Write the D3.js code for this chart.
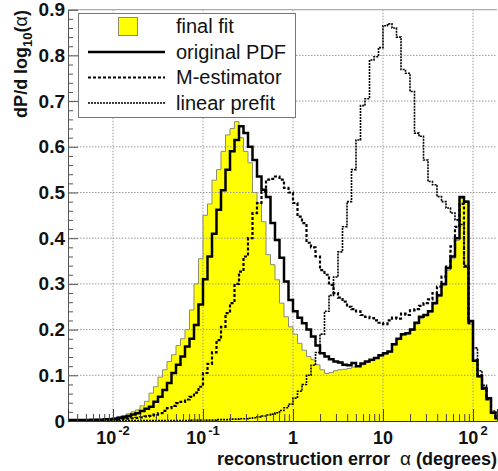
<!DOCTYPE html>
<html>
<head>
<meta charset="utf-8">
<script src="https://cdn.jsdelivr.net/npm/d3@7"></script>
<style>
  body { margin: 0; background: #fff; }
  svg { display: block; }
</style>
</head>
<body>
<div id="chart"></div>
<script>
// histogram bins in log10(alpha/deg), 0.05 wide, first edge at 10^-2.5
const binStart = -2.5, binWidth = 0.05;

const finalFit = [
  0.002,0.002,0.002,0.003,0.003,0.003,0.004,0.004,0.005,0.006,
  0.007,0.009,0.012,0.016,0.020,0.024,0.033,0.043,0.061,0.075,
  0.096,0.112,0.130,0.145,0.165,0.180,0.200,0.243,0.300,0.355,
  0.450,0.475,0.527,0.550,0.590,0.626,0.640,0.655,0.620,0.590,
  0.565,0.500,0.477,0.436,0.364,0.342,0.309,0.258,0.228,0.206,
  0.190,0.170,0.155,0.141,0.134,0.123,0.112,0.104,0.106,0.110,
  0.112,0.113,0.115,0.118,0.121,0.123,0.128,0.132,0.138,0.142,
  0.146,0.150,0.166,0.178,0.188,0.190,0.198,0.212,0.224,0.230,
  0.238,0.255,0.272,0.296,0.330,0.355,0.395,0.487,0.482,0.212,
  0.130,0.096,0.070,0.048,0.016,0.005
];

const originalPdf = [
  0.002,0.002,0.002,0.002,0.002,0.003,0.003,0.003,0.004,0.004,
  0.005,0.007,0.009,0.011,0.014,0.017,0.022,0.027,0.031,0.042,
  0.053,0.068,0.083,0.105,0.123,0.141,0.163,0.180,0.210,0.255,
  0.310,0.360,0.410,0.462,0.505,0.550,0.590,0.615,0.645,0.630,
  0.600,0.571,0.535,0.506,0.490,0.433,0.396,0.357,0.305,0.265,
  0.240,0.226,0.214,0.200,0.185,0.165,0.148,0.141,0.135,0.130,
  0.128,0.123,0.122,0.127,0.120,0.126,0.130,0.134,0.138,0.144,
  0.148,0.152,0.168,0.180,0.190,0.192,0.200,0.215,0.228,0.232,
  0.240,0.258,0.275,0.300,0.335,0.360,0.400,0.490,0.480,0.218,
  0.132,0.098,0.072,0.050,0.018,0.006
];

const mEstimator = [
  0.001,0.001,0.001,0.001,0.001,0.001,0.001,0.001,0.001,0.001,
  0.002,0.003,0.004,0.005,0.006,0.007,0.008,0.010,0.011,0.014,
  0.017,0.022,0.028,0.033,0.039,0.042,0.047,0.053,0.062,0.075,
  0.105,0.125,0.150,0.177,0.206,0.236,0.258,0.300,0.327,0.360,
  0.400,0.455,0.477,0.502,0.528,0.530,0.535,0.528,0.510,0.500,
  0.477,0.447,0.433,0.390,0.380,0.360,0.330,0.320,0.298,0.280,
  0.270,0.261,0.250,0.245,0.240,0.232,0.228,0.225,0.220,0.215,
  0.212,0.220,0.226,0.224,0.235,0.232,0.242,0.245,0.252,0.258,
  0.266,0.280,0.294,0.316,0.338,0.382,0.425,0.475,0.338,0.214,
  0.134,0.100,0.070,0.047,0.018,0.006
];

const linearPrefit = [
  0.001,0.001,0.001,0.001,0.001,0.001,0.001,0.001,0.001,0.001,
  0.001,0.001,0.001,0.001,0.001,0.001,0.001,0.001,0.001,0.001,
  0.001,0.001,0.001,0.001,0.001,0.001,0.001,0.002,0.002,0.002,
  0.002,0.002,0.002,0.003,0.003,0.003,0.004,0.004,0.005,0.005,
  0.006,0.007,0.009,0.011,0.013,0.015,0.018,0.023,0.029,0.037,
  0.050,0.065,0.080,0.100,0.122,0.150,0.190,0.240,0.275,0.315,
  0.370,0.425,0.480,0.550,0.615,0.690,0.705,0.790,0.797,0.817,
  0.865,0.869,0.860,0.840,0.769,0.761,0.721,0.630,0.623,0.571,
  0.524,0.517,0.491,0.480,0.466,0.455,0.440,0.430,0.340,0.220,
  0.160,0.110,0.078,0.050,0.022,0.007
];

const yTicks = [0, 0.1, 0.2, 0.3, 0.4, 0.5, 0.6, 0.7, 0.8, 0.9];
const yTickLabels = ["0", "0.1", "0.2", "0.3", "0.4", "0.5", "0.6", "0.7", "0.8", "0.9"];
const xTicks = [0.01, 0.1, 1, 10, 100];
const xTickLabels = [["10", "-2"], ["10", "-1"], ["1", ""], ["10", ""], ["10", "2"]];
const legendLabels = ["final fit", "original PDF", "M-estimator", "linear prefit"];

const width = 498, height = 471;
const plotLeft = 68, plotRight = 497, plotTop = 9.7, plotBottom = 421;
const font = "'Liberation Sans', Arial, Helvetica, sans-serif";

const svg = d3.select("#chart")
    .append("svg")
    .attr("width", width)
    .attr("height", height)
    .style("font-family", font);

svg.append("rect").attr("width", width).attr("height", height).attr("fill", "white");

const x = d3.scaleLog()
    .domain([Math.pow(10, -2.5), Math.pow(10, 2.2667)])
    .range([plotLeft, plotRight]);

const y = d3.scaleLinear()
    .domain([0, 0.9])
    .range([plotBottom, plotTop]);

const edges = d3.range(finalFit.length + 1).map(i => Math.pow(10, binStart + i * binWidth));
const steps = vals => vals.map((v, i) => [edges[i], v]).concat([[edges[vals.length], vals[vals.length - 1]]]);

svg.append("defs").append("clipPath").attr("id", "plot")
    .append("rect")
    .attr("x", plotLeft).attr("y", plotTop)
    .attr("width", plotRight - plotLeft).attr("height", plotBottom - plotTop);

const plot = svg.append("g").attr("clip-path", "url(#plot)");

// yellow filled histogram
const area = d3.area()
    .x(d => x(d[0]))
    .y0(y(0))
    .y1(d => y(d[1]))
    .curve(d3.curveStepAfter);

const line = d3.line()
    .x(d => x(d[0]))
    .y(d => y(d[1]))
    .curve(d3.curveStepAfter);

plot.append("path")
    .attr("d", area(steps(finalFit)))
    .attr("fill", "#ffff00");

plot.append("path")
    .attr("d", line(steps(finalFit)))
    .attr("fill", "none")
    .attr("stroke", "#8c8c70")
    .attr("stroke-width", 1);

// grid on top of the fill
plot.selectAll("line.hgrid")
    .data(yTicks.slice(1, -1))
    .enter().append("line")
    .attr("x1", plotLeft).attr("x2", plotRight)
    .attr("y1", d => y(d)).attr("y2", d => y(d))
    .attr("stroke", "#9a9a9a")
    .attr("stroke-dasharray", "1.5,1.5");

plot.selectAll("line.vgrid")
    .data(xTicks)
    .enter().append("line")
    .attr("x1", d => x(d)).attr("x2", d => x(d))
    .attr("y1", plotTop).attr("y2", plotBottom)
    .attr("stroke", "#9a9a9a")
    .attr("stroke-dasharray", "1.5,1.5");

const styles = [
    { vals: linearPrefit, w: 1.6, dash: "2,1", color: "#000" },
    { vals: mEstimator, w: 2.2, dash: "3,2", color: "#000" },
    { vals: originalPdf, w: 2.5, dash: null, color: "#000" }
];

styles.forEach(s => {
    plot.append("path")
        .attr("d", line(steps(s.vals)))
        .attr("fill", "none")
        .attr("stroke", s.color)
        .attr("stroke-width", s.w)
        .attr("stroke-dasharray", s.dash);
});

// axes
const minorY = d3.range(0, 0.9001, 0.02).filter(v => Math.abs(v * 10 - Math.round(v * 10)) > 1e-6);
const yAxis = d3.axisLeft(y).tickValues(yTicks).tickSize(-10).tickPadding(3)
    .tickFormat((d, i) => yTickLabels[i]);
const gy = svg.append("g").attr("transform", `translate(${plotLeft},0)`).call(yAxis);
gy.select(".domain").attr("stroke", "#555");
gy.selectAll(".tick line").attr("stroke", "#555");
gy.selectAll(".tick text")
    .attr("fill", "#111")
    .style("font-size", "19px")
    .style("font-weight", "bold")
    .style("font-family", font);

svg.append("g").attr("transform", `translate(${plotLeft},0)`)
    .call(d3.axisLeft(y).tickValues(minorY).tickSize(-5).tickFormat(""))
    .call(g => g.select(".domain").remove())
    .selectAll(".tick line").attr("stroke", "#555");

const minorX = [];
[-3, -2, -1, 0, 1, 2].forEach(e => {
    for (let k = 2; k <= 9; k++) {
        const v = k * Math.pow(10, e);
        if (v > x.domain()[0] && v < x.domain()[1]) minorX.push(v);
    }
});

const gx = svg.append("g").attr("transform", `translate(0,${plotBottom})`)
    .call(d3.axisBottom(x).tickValues(xTicks).tickSize(-12).tickFormat(""));
gx.select(".domain").attr("stroke", "#333");
gx.selectAll(".tick line").attr("stroke", "#444");

svg.append("g").attr("transform", `translate(0,${plotBottom})`)
    .call(d3.axisBottom(x).tickValues(minorX).tickSize(-7).tickFormat(""))
    .call(g => g.select(".domain").remove())
    .selectAll(".tick line").attr("stroke", "#444");

// top frame
svg.append("line")
    .attr("x1", plotLeft).attr("x2", plotRight)
    .attr("y1", plotTop).attr("y2", plotTop)
    .attr("stroke", "#999");

// x tick labels with superscripts
xTicks.forEach((t, i) => {
    const txt = svg.append("text")
        .attr("x", x(t))
        .attr("y", 444)
        .attr("text-anchor", "middle")
        .style("font-size", "18px")
        .style("font-weight", "bold")
        .attr("fill", "#111");
    txt.append("tspan").text(xTickLabels[i][0]);
    if (xTickLabels[i][1]) {
        txt.append("tspan")
            .attr("dy", -9)
            .attr("dx", 2)
            .style("font-size", "13px")
            .text(xTickLabels[i][1]);
    }
});

// x title
const xt = svg.append("text")
    .attr("x", 497)
    .attr("y", 465)
    .attr("text-anchor", "end")
    .style("font-size", "18px")
    .style("font-weight", "bold")
    .attr("fill", "#111");
xt.append("tspan").text("reconstruction error\u00a0\u00a0");
xt.append("tspan").style("font-weight", "normal").style("font-size", "19px").text("\u03b1");
xt.append("tspan").text("\u00a0(degrees)");

// y title
const yt = svg.append("text")
    .attr("transform", "translate(27,10) rotate(-90)")
    .attr("text-anchor", "end")
    .style("font-size", "18px")
    .style("font-weight", "bold")
    .attr("fill", "#111");
yt.append("tspan").text("dP/d log");
yt.append("tspan").attr("dy", 5).style("font-size", "13px").text("10");
yt.append("tspan").attr("dy", -5).text("(");
yt.append("tspan").style("font-weight", "normal").text("\u03b1");
yt.append("tspan").text(")");

// legend
const legend = svg.append("g");
legend.append("rect")
    .attr("x", 78.5).attr("y", 13.5)
    .attr("width", 217).attr("height", 104)
    .attr("fill", "white")
    .attr("stroke", "#777");

legend.append("rect")
    .attr("x", 118.5).attr("y", 17.5)
    .attr("width", 19).attr("height", 18)
    .attr("fill", "#ffff00")
    .attr("stroke", "#8c8c70");

styles.slice().reverse().forEach((s, i) => {
    const ly = 52 + i * 25.5;
    legend.append("line")
        .attr("x1", 88).attr("x2", 165)
        .attr("y1", ly).attr("y2", ly)
        .attr("stroke", s.color)
        .attr("stroke-width", s.w)
        .attr("stroke-dasharray", s.dash);
});

legendLabels.forEach((lab, i) => {
    legend.append("text")
        .attr("x", 176)
        .attr("y", 33 + i * 25.5)
        .style("font-size", "20px")
        .attr("fill", "#111")
        .text(lab);
});
</script>
</body>
</html>
